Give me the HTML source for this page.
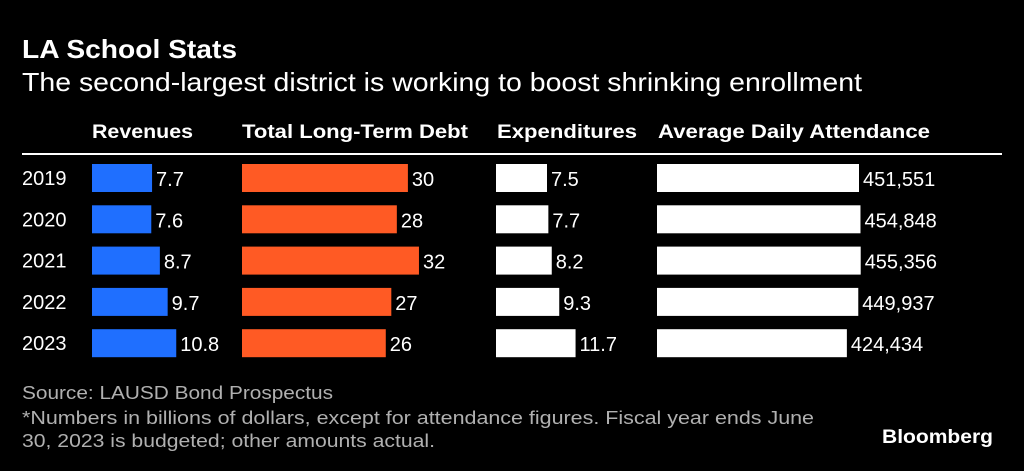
<!DOCTYPE html>
<html><head><meta charset="utf-8"><style>
body{margin:0;background:#000;width:1024px;height:471px;overflow:hidden;font-family:"Liberation Sans",sans-serif;color:#fff}
text{font-family:"Liberation Sans",sans-serif}
</style></head><body>
<svg width="1024" height="471" style="position:absolute;left:0;top:0" id="chart">
<text x="22" y="58" fill="#fff" font-size="26" font-weight="bold" textLength="215" lengthAdjust="spacingAndGlyphs">LA School Stats</text>
<text x="22" y="91" fill="#fff" font-size="26" textLength="840" lengthAdjust="spacingAndGlyphs">The second-largest district is working to boost shrinking enrollment</text>
<text x="22" y="399" fill="#b0b0b0" font-size="18" textLength="311" lengthAdjust="spacingAndGlyphs">Source: LAUSD Bond Prospectus</text>
<text x="22" y="424" fill="#b0b0b0" font-size="18" textLength="792" lengthAdjust="spacingAndGlyphs">*Numbers in billions of dollars, except for attendance figures. Fiscal year ends June</text>
<text x="22" y="447" fill="#b0b0b0" font-size="18" textLength="413" lengthAdjust="spacingAndGlyphs">30, 2023 is budgeted; other amounts actual.</text>
<text x="882" y="443" fill="#fff" font-size="19" font-weight="bold" textLength="111" lengthAdjust="spacingAndGlyphs">Bloomberg</text>
</svg>
<script>
const years=["2019","2020","2021","2022","2023"];
const revenues=[7.7,7.6,8.7,9.7,10.8];
const debt=[30,28,32,27,26];
const expenditures=[7.5,7.7,8.2,9.3,11.7];
const attendance=[451551,454848,455356,449937,424434];
const headers=["Revenues","Total Long-Term Debt","Expenditures","Average Daily Attendance"];
const svg=document.getElementById('chart');
const NS='http://www.w3.org/2000/svg';
function mk(tag,attrs){const e=document.createElementNS(NS,tag);for(const k in attrs)e.setAttribute(k,attrs[k]);svg.appendChild(e);return e;}
const cols=[
 {name:'revenues',data:revenues,x0:92,hx:92,hw:101,scale:7.8,color:'#1f6fff',fmt:v=>v.toFixed(1)},
 {name:'debt',data:debt,x0:242,hx:242,hw:226,scale:5.53,color:'#ff5a24',fmt:v=>String(v)},
 {name:'expenditures',data:expenditures,x0:496,hx:497,hw:140,scale:6.8,color:'#ffffff',fmt:v=>v.toFixed(1)},
 {name:'attendance',data:attendance,x0:657,hx:658,hw:272,scale:202/451551,color:'#ffffff',fmt:v=>v.toLocaleString('en-US')}
];
cols.forEach((c,i)=>{
 const h=mk('text',{x:c.hx,y:138,fill:'#fff','font-size':19,'font-weight':'bold',textLength:c.hw,lengthAdjust:'spacingAndGlyphs'});
 h.textContent=headers[i];
 
 
});
const line=mk('rect',{x:22,y:153,width:980,height:2,fill:'#fff'});


function rowY(i){return 164+i*41.3;}
years.forEach((y,i)=>{
 const t=mk('text',{x:22,y:rowY(i)+21,fill:'#fff','font-size':20});
 t.textContent=y;
 
 
 cols.forEach(c=>{
  const w=c.data[i]*c.scale;
  const r=mk('rect',{x:c.x0,y:rowY(i),width:w,height:28,fill:c.color});
  
  
  const v=mk('text',{x:c.x0+w+4,y:rowY(i)+22,fill:'#fff','font-size':20});
  v.textContent=c.fmt(c.data[i]);
  
  
 });
});
</script>
</body></html>
